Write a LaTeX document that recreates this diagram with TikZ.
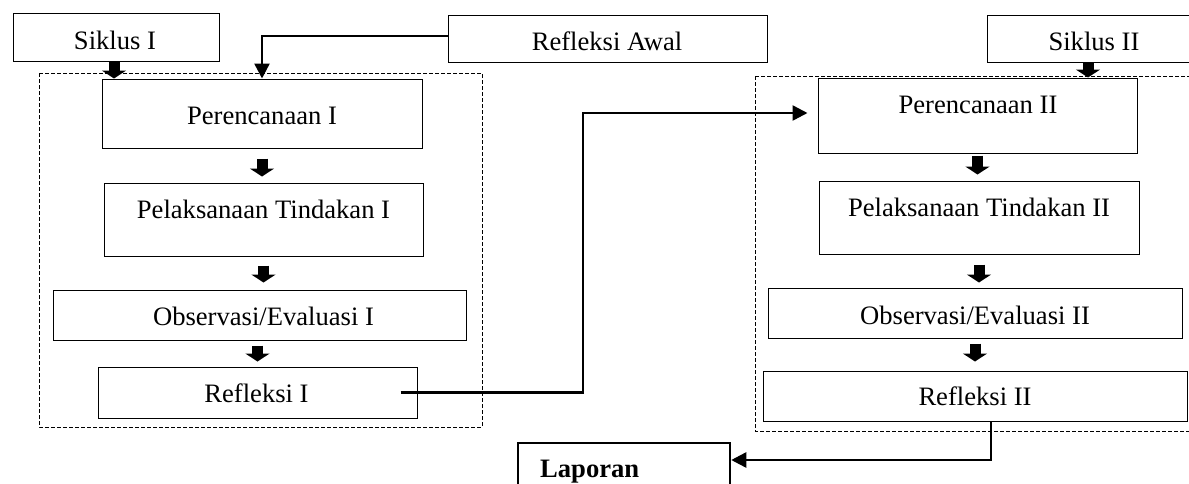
\documentclass[tikz,border=0pt]{standalone}
\usepackage{fontspec}
\setmainfont{Liberation Serif}
\usetikzlibrary{arrows.meta}
\begin{document}
\begin{tikzpicture}[x=1pt,y=-1pt,
  box/.style={draw, line width=1pt, rectangle, inner sep=0pt},
  txt/.style={inner sep=0pt, anchor=base, font=\fontsize{26.6pt}{32pt}\selectfont},
  blk/.style={line width=11pt, -{Triangle[width=24pt,length=8pt]}},
  con/.style={line width=2.5pt},
  tip/.style={-{Triangle[width=15pt,length=15pt]}},
  dbox/.style={draw, dash pattern=on 4pt off 2pt, line width=0.8pt}]
\useasboundingbox (0,0) rectangle (1189,483);
\clip (0,0) rectangle (1189,483);
% dashed frames
\draw[dbox] (39,73) rectangle (482,427);
\draw[dbox] (755,76) rectangle (1200,431);
% boxes
\node[box, minimum width=206pt, minimum height=48pt] (s1) at (116,37) {};
\node[box, minimum width=319pt, minimum height=47pt] (ra) at (607.5,38.5) {};
\node[box, minimum width=214pt, minimum height=47pt] (s2) at (1094,38.5) {};
\node[box, minimum width=320pt, minimum height=69pt] (p1) at (262,113.5) {};
\node[box, minimum width=319pt, minimum height=73pt] (pe1) at (263.5,219.5) {};
\node[box, minimum width=413pt, minimum height=50pt] (o1) at (259.5,315) {};
\node[box, minimum width=319pt, minimum height=51pt] (r1) at (257.5,392.5) {};
\node[box, minimum width=319pt, minimum height=75pt] (p2) at (977.5,115.5) {};
\node[box, minimum width=320pt, minimum height=73pt] (pe2) at (979,217.5) {};
\node[box, minimum width=414pt, minimum height=50pt] (o2) at (975,313) {};
\node[box, minimum width=424pt, minimum height=50pt] (r2) at (975,396) {};
\node[draw, line width=2.5pt, inner sep=0pt, minimum width=212pt, minimum height=67pt] (lap) at (624,476.5) {};
% texts
\node[txt] (ts1) at (115,49) {Siklus I};
\node[txt] (tra) at (607,50) {Refleksi Awal};
\node[txt] (ts2) at (1094,50) {Siklus II};
\node[txt] (tp1) at (262,124) {Perencanaan I};
\node[txt] (tpe1) at (263.5,218) {Pelaksanaan Tindakan I};
\node[txt] (to1) at (263.5,325) {Observasi/Evaluasi I};
\node[txt] (tr1) at (256.5,402) {Refleksi I};
\node[txt] (tp2) at (978,113) {Perencanaan II};
\node[txt] (tpe2) at (979,216) {Pelaksanaan Tindakan II};
\node[txt] (to2) at (975,324) {Observasi/Evaluasi II};
\node[txt] (tr2) at (975,405) {Refleksi II};
\node[txt, anchor=base west, font=\fontsize{26.6pt}{32pt}\selectfont\bfseries] (tlap) at (540,477) {Laporan};
% block arrows
\draw[blk] ([xshift=-2pt]s1.south) -- ([xshift=-2pt]s1.south |- p1.north);
\draw[blk] ([yshift=-10pt]p1.south) -- ([yshift=6pt]p1.south |- pe1.north);
\draw[blk] ([yshift=-9pt]pe1.south) -- ([yshift=7pt]pe1.south |- o1.north);
\draw[blk] ([yshift=-5pt]r1.north |- o1.south) -- ([yshift=5pt]r1.north);
\draw[blk] ([xshift=-6pt]s2.south) -- ([xshift=-6pt]s2.south |- p2.north);
\draw[blk] ([yshift=-2pt]p2.south) -- ([yshift=6pt]p2.south |- pe2.north);
\draw[blk] ([yshift=-10pt]pe2.south) -- ([yshift=5pt]pe2.south |- o2.north);
\draw[blk] ([yshift=-5pt]r2.north |- o2.south) -- ([yshift=9pt]r2.north);
% connectors
\coordinate (bend) at (583,113);
\draw[con, tip] ([yshift=2.5pt]ra.west) -| (p1.north);
\draw[con, tip] ([xshift=-17pt]r1.east) -| (bend) -- ([xshift=-10pt]p2.west |- bend);
\draw[con, tip] ([xshift=16pt]r2.south) |- ([yshift=16.5pt]lap.east);
\end{tikzpicture}
\end{document}
